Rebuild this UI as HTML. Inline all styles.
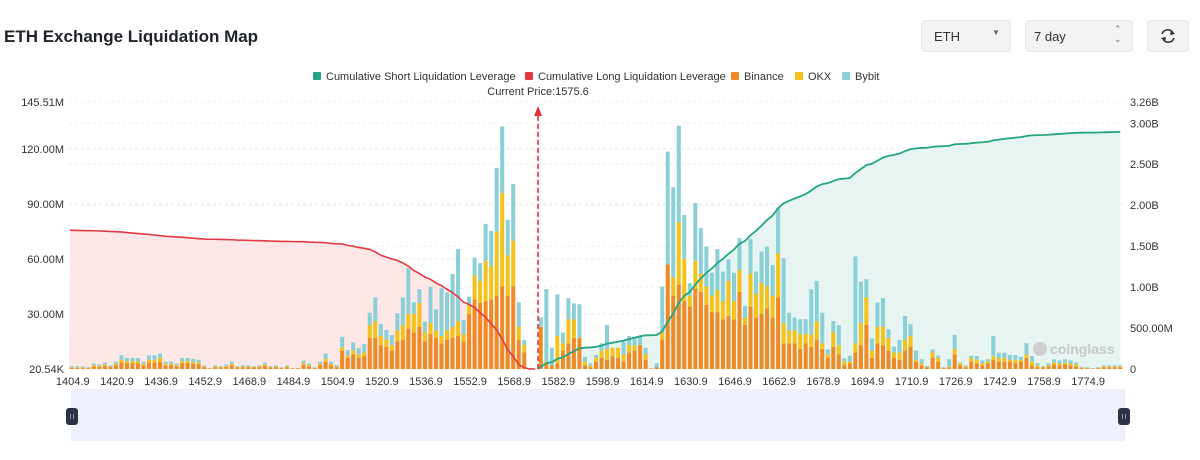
<!DOCTYPE html>
<html><head><meta charset="utf-8">
<style>
body{margin:0;background:#fff;font-family:"Liberation Sans",sans-serif;}
#wrap{position:relative;width:1200px;height:460px;overflow:hidden;}
.title{position:absolute;left:4px;top:27px;font-size:17px;font-weight:bold;color:#1f2329;}
.ctl{position:absolute;top:20px;height:32px;background:#f1f3f5;border:1px solid #e6e8eb;border-radius:4px;box-sizing:border-box;font-size:13px;color:#333;}
</style></head><body>
<div id="wrap">
<div class="title">ETH Exchange Liquidation Map</div>
<div class="ctl" style="left:921px;width:90px;"><span style="position:absolute;left:12px;top:8px;">ETH</span><span style="position:absolute;left:70px;top:7px;font-size:8px;color:#666;">▼</span></div>
<div class="ctl" style="left:1025px;width:108px;"><span style="position:absolute;left:8px;top:8px;">7 day</span><span style="position:absolute;left:88px;top:3px;font-size:9px;color:#777;line-height:10px;">⌃<br>⌄</span></div>
<div class="ctl" style="left:1147px;width:42px;"><svg width="40" height="30" style="position:absolute;left:0;top:0"><g fill="none" stroke="#333" stroke-width="1.6"><path d="M14 13 A6 6 0 0 1 25 12"/><path d="M26 17 A6 6 0 0 1 15 18"/></g><path d="M23 9 L27 13 L22 14Z M17 21 L13 17 L18 16Z" fill="#333"/></svg></div>
<svg id="chart" width="1200" height="460" style="position:absolute;left:0;top:0;pointer-events:none"></svg>
</div>
<script>
const tickLabels=["1404.9","1420.9","1436.9","1452.9","1468.9","1484.9","1504.9","1520.9","1536.9","1552.9","1568.9","1582.9","1598.9","1614.9","1630.9","1646.9","1662.9","1678.9","1694.9","1710.9","1726.9","1742.9","1758.9","1774.9"];
const leftTicks=[0,30,60,90,120,145.51];
const leftTickText=["20.54K","30.00M","60.00M","90.00M","120.00M","145.51M"];
const rightTicks=[0,0.5,1,1.5,2,2.5,3,3.26];
const rightTickText=["0","500.00M","1.00B","1.50B","2.00B","2.50B","3.00B","3.26B"];
const currentPrice="1575.6";
const currentIndex=84.5;
const binance=[.6,.6,.6,.5,1.5,1.2,1.8,1,2,3.5,3,3,3,2,3.5,3.5,4,2,2,1.5,3,3,2.7,2.5,1,.3,1,.8,1.2,2,.8,1,1,.8,1,1.8,.8,1,.5,1,.3,.3,2.2,1.5,.5,2,4,2,1,
9.8,6,8,6,7,17,17,13,12,10,15,16,22,20,23,15,19,17,14,16,17,18,15,30,38,36,37,38,40,45,40,45,16,9,.2,0,
23,3,2,3,10,14,17,17,2,1,4,6,5,7,6,4,9,10,13,5,.3,1,16,57,40,46,37,34,44,42,35,31,31,27,29,27,42,24,34,28,30,33,28,39,14,14,14,11,14,12,16,11,6,12,8,2,
3,9,13,24,6,14,13,10,6,5,10,12,4,2,.8,6,4,.5,1,8,2,1,4,3,2,3,5,4,4,4,3,4,6,2,1,.8,1.5,2.5,2,2.5,2,1.5,.6,.5,.2,.5,1,1,1,1];
const okx=[.3,.3,.3,.2,.6,.5,.7,.4,.8,1.5,1.2,1.2,1.2,.8,1.5,1.5,2,.8,.8,.6,1.2,1.2,1,1,.4,.1,.4,.3,.5,.8,.3,.4,.4,.3,.4,.7,.3,.4,.2,.4,.1,.1,.9,.6,.2,.8,1.5,.8,.4,
2,1.5,2,2,2,7,9,5,4,3,6,8,8,10,13,5,6,4,4,5,6,8,4,5,13,12,22,18,35,51,22,25,7,4,.1,0,
0,1,0,15,4,13,10,0,2,1,2,4,6,4.6,5.6,4,4,3,0,3,0,0,4,0,10,34,23,6,15,10,10,9,12,10,19,10,12,4,18,13,17,12,12,24,11,7,7,8,5,7,10,3,2,8,5,2,
1,5,12,15,4,9,10,7,3,4,6,6,1,1,.3,3,2,.2,.5,3,1,.5,2,2,1,1,2,2,2,1,2,1,2,2,1,.4,.6,1,1,1,1,1,.3,.2,.1,.2,.5,.5,.5,.5];
const bybit=[.6,.6,.6,.3,.9,.8,1,.6,1.2,2.5,1.8,1.8,1.8,1.2,2.5,2.5,2.5,1.2,1.2,.9,1.8,1.8,1.8,1.5,.6,.1,.6,.4,.8,1.2,.4,.6,.6,.4,.6,1,.4,.6,.3,.6,.1,.1,1.4,.9,.3,1.2,3,1.2,.6,
5.8,2.9,4.5,3.3,4.6,6.7,13.1,6.5,5.3,5.5,9.4,15.1,24.9,6.4,7.6,5.8,19.9,11.6,26,20.6,28.8,39.3,7.7,4.4,9.7,9.7,20.1,19.3,34.5,36.2,19.3,30.8,13.4,2.8,0,0,
5.2,39.5,9.6,22.7,5.8,11.6,8.8,18.3,2.7,1.1,1.6,4,13,0,0,6.9,5,4.3,4.6,3.6,0,2.1,24.9,61.5,49.1,52.6,24,6.8,31.4,24.8,21.7,12.5,22.3,16.1,11.8,15.5,17.3,6.4,18.8,12.1,17,21.7,16.7,24.7,35.4,9.7,7,8.1,8.1,24.5,22,16.7,2.7,6.2,10.8,1.8,
3.3,47.3,22.6,9.9,6.7,13.2,15.6,4.6,3.2,6.8,12.9,6.4,5,2.3,.5,1.7,1.3,.3,3.8,7.5,.5,.5,1.3,2.1,1.7,1.3,11,2.9,2.9,2.6,2.6,1.7,6,3.1,1.1,.4,1,1.8,1.7,1.8,1.7,1,.4,.3,.2,.3,.5,.5,.5,.5];

const NS="http://www.w3.org/2000/svg";
const svg=document.getElementById('chart');
const X0=69,PLOTR=1123,Y0=369,YT=102,N=binance.length,BAND=(PLOTR-X0)/N;
const LMAX=145.51,RMAX=3.26;
function xC(i){return X0+BAND*(i+0.5);}
function yL(v){return Y0-(v/LMAX)*(Y0-YT);}
function yR(v){return Y0-(v/RMAX)*(Y0-YT);}
function mk(tag,attrs,parent){const e=document.createElementNS(NS,tag);for(const k in attrs)e.setAttribute(k,attrs[k]);(parent||svg).appendChild(e);return e;}
function txt(s,x,y,anchor,size,color){const t=mk('text',{x:x,y:y,'text-anchor':anchor,'font-size':size,fill:color,'font-family':'Liberation Sans, sans-serif'});t.textContent=s;return t;}

// grid lines
leftTicks.forEach((v,k)=>{if(k===0)return;const l=mk('line',{x1:X0,x2:PLOTR,y1:yL(v),y2:yL(v),stroke:'#ececec','stroke-dasharray':'3,3'});

});
rightTicks.forEach((v,k)=>{if(k===0)return;const l=mk('line',{x1:X0,x2:PLOTR,y1:yR(v),y2:yR(v),stroke:'#f0f0f0','stroke-dasharray':'3,3'});

});

// cumulative series
const cur=Math.floor(currentIndex);
const longCum=[],shortCum=[];
for(let i=0;i<N;i++){longCum.push(0);shortCum.push(0);}
let acc=0;for(let i=cur;i>=0;i--){acc+=binance[i]+okx[i]+bybit[i];longCum[i]=acc/1000;}
acc=0;for(let i=cur+1;i<N;i++){acc+=binance[i]+okx[i]+bybit[i];shortCum[i]=acc/1000;}
longCum[cur]=0;
let lp=[];for(let i=0;i<=cur;i++)lp.push([i===0?X0+1:xC(i),yR(longCum[i])]);
let ra=mk('path',{d:'M'+X0+','+Y0+' L'+lp.map(p=>p.join(',')).join(' L')+' L'+lp[lp.length-1][0]+','+Y0+'Z',fill:'#fde3e3','fill-opacity':0.85});


let sp=[[xC(currentIndex),Y0]];for(let i=cur+1;i<N;i++)sp.push([xC(i),yR(shortCum[i])]);
let ga=mk('path',{d:'M'+sp.map(p=>p.join(',')).join(' L')+' L'+sp[sp.length-1][0]+','+Y0+'Z',fill:'#e3f4ef','fill-opacity':0.9});



// bars
for(let i=0;i<N;i++){
  const vals=[binance[i],okx[i],bybit[i]],cols=['#f08a24','#f5c21b','#8bcfd7'],names=['bar-binance','bar-okx','bar-bybit'];
  let base=0;
  for(let s=0;s<3;s++){const v=vals[s];if(v<=0)continue;
    const r=mk('rect',{x:xC(i)-2,y:yL(base+v),width:4,height:yL(base)-yL(base+v),fill:cols[s]});
    
    
    base+=v;}
}
let rl=mk('path',{d:'M'+lp.map(p=>p.join(',')).join(' L'),fill:'none',stroke:'#e23a45','stroke-width':1.6});


let gl=mk('path',{d:'M'+sp.map(p=>p.join(',')).join(' L'),fill:'none',stroke:'#26a582','stroke-width':1.8});



// axes labels
leftTicks.forEach((v,k)=>{const t=txt(leftTickText[k],64,yL(v)+4,'end',11,'#333');

});
rightTicks.forEach((v,k)=>{const t=txt(rightTickText[k],1130,yR(v)+4,'start',11,'#333');

});
tickLabels.forEach((s,k)=>{const t=txt(s,xC(k*8)+1,385,'middle',11,'#333');

});

// current price marker
const cx=xC(currentIndex);
let cl=mk('line',{x1:cx,x2:cx,y1:Y0,y2:112,stroke:'#e0303a','stroke-width':1.6,'stroke-dasharray':'5,3'});


let ca=mk('path',{d:`M${cx-4},${116} L${cx},${106} L${cx+4},${116} Z`,fill:'#e0303a'});


let ct=txt('Current Price:'+currentPrice,cx,95,'middle',11,'#333');



// legend
const legend=[['#26a582','Cumulative Short Liquidation Leverage',313],['#e23a45','Cumulative Long Liquidation Leverage',525],['#f08a24','Binance',731],['#f5c21b','OKX',795],['#8bcfd7','Bybit',842]];
legend.forEach(l=>{const g=mk('g',{});


mk('rect',{x:l[2],y:72,width:8,height:8,fill:l[0],rx:1},g);
const t=mk('text',{x:l[2]+13,y:80,'font-size':11,fill:'#333','font-family':'Liberation Sans, sans-serif'},g);t.textContent=l[1];});

// watermark
let wm=txt('coinglass',1050,354,'start',14,'#c8c8c8');wm.setAttribute('font-weight','bold');


let wi=mk('circle',{cx:1040,cy:349,r:7,fill:'#cfcfcf'});



// data zoom slider
let dz=mk('rect',{x:71,y:389,width:1054,height:52,fill:'#eef1fc'});


[72,1124].forEach(hx=>{const h=mk('rect',{x:hx-6,y:408,width:12,height:17,rx:3,fill:'#2d3346'});


mk('line',{x1:hx-1.5,x2:hx-1.5,y1:414,y2:419,stroke:'#aaa','stroke-width':0.8});
mk('line',{x1:hx+1.5,x2:hx+1.5,y1:414,y2:419,stroke:'#aaa','stroke-width':0.8});});
</script>
</body></html>
